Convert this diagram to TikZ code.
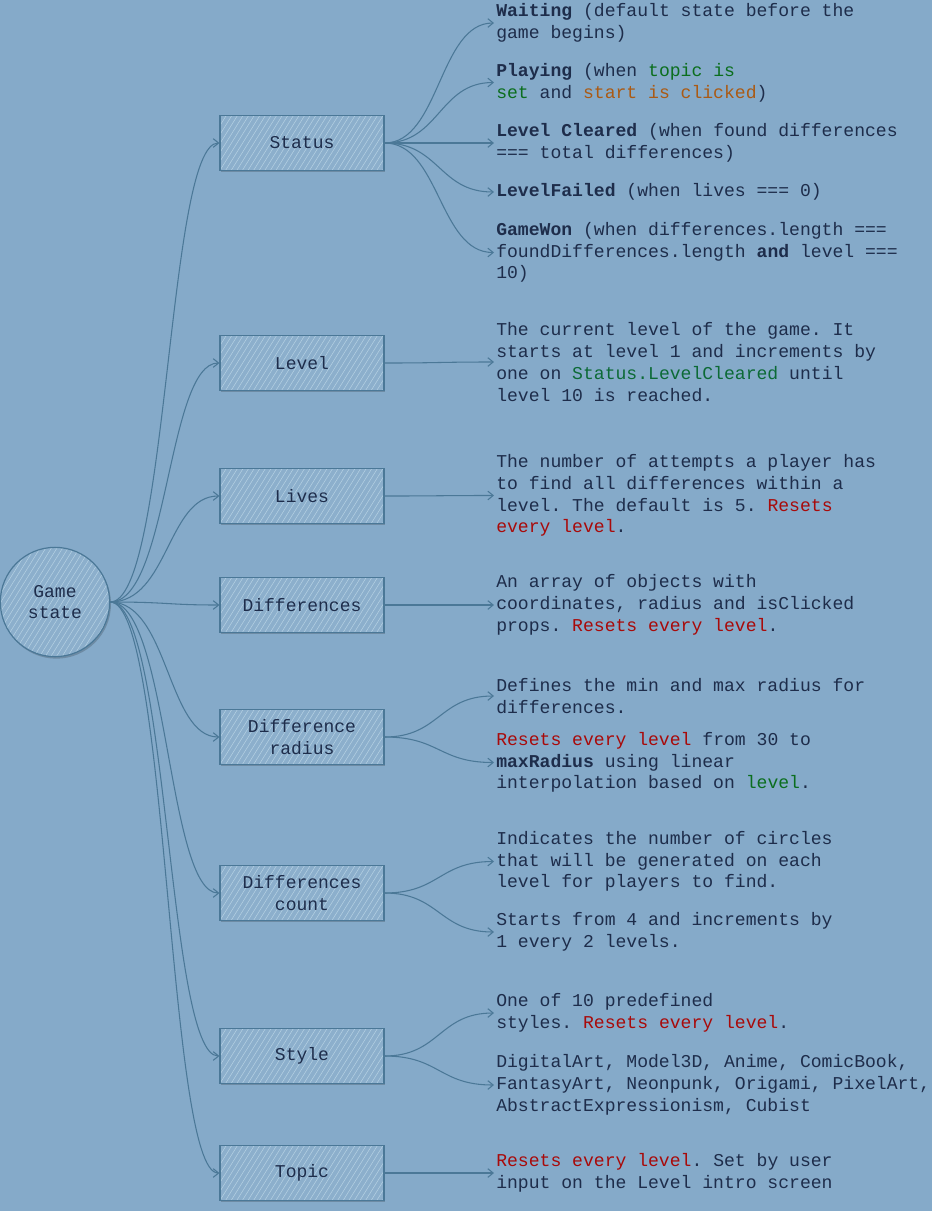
\documentclass[tikz,border=0pt]{standalone}
\usepackage{fontspec}
\setmainfont{Liberation Mono}
\setmonofont{Liberation Mono}
\usepackage{tikz}
\usetikzlibrary{arrows.meta, calc, shadows, positioning}

\definecolor{bgblue}{HTML}{85AAC9}
\definecolor{edgeblue}{HTML}{4B7897}
\definecolor{hatchblue}{HTML}{B4D0E3}
\definecolor{inkblue}{HTML}{1E2D4B}
\definecolor{resetred}{HTML}{A80A0A}
\definecolor{codegreen}{HTML}{0B6E1E}
\definecolor{codeteal}{HTML}{0C6A36}
\definecolor{codeorange}{HTML}{AA5A14}

\newcommand{\rst}[1]{\textcolor{resetred}{#1}}
\newcommand{\grn}[1]{\textcolor{codegreen}{#1}}

\tikzset{
  sketchfill/.style={fill=bgblue!94!white,
    path picture={
      \foreach \i in {-30,...,30}
        \draw[hatchblue, line width=0.4pt]
          ($(path picture bounding box.south west)+(\i*4.2pt,0)$) -- ++(58:110pt);
    }},
  statebox/.style={draw=edgeblue, line width=0.9pt, sketchfill, minimum width=123pt, minimum height=41pt,
    align=center, text=inkblue, font=\ttfamily\fontsize{13.5}{16.3}\selectfont,
    drop shadow={shadow xshift=1pt, shadow yshift=-1.5pt, opacity=0.18, fill=black}},
  statecircle/.style={statebox, circle, minimum width=82pt, minimum height=82pt, inner sep=0pt},
  desc/.style={anchor=west, align=left, inner xsep=1.5pt, inner ysep=0pt, text=inkblue,
    font=\ttfamily\fontsize{13.56}{16.3}\selectfont},
  link/.style={draw=edgeblue, line width=0.8pt, -{Straight Barb[length=4pt,width=6.5pt]}},
}

\begin{document}
\frenchspacing
\begin{tikzpicture}[x=0.75pt, y=-0.75pt]
  \fill[bgblue] (0,0) rectangle (932,1211);
  \useasboundingbox (0,0) rectangle (932,1211);

  % centre
  \node[statecircle] (game) at (55,602) {Game\\state};

  % fields
  \node[statebox] (status)  at (302,143)  {Status};
  \node[statebox] (level)   at (302,363)  {Level};
  \node[statebox] (lives)   at (302,496)  {Lives};
  \node[statebox] (diffs)   at (302,605)  {Differences};
  \node[statebox] (radius)  at (302,737)  {Difference\\radius};
  \node[statebox] (count)   at (302,893)  {Differences\\count};
  \node[statebox] (style)   at (302,1056) {Style};
  \node[statebox] (topic)   at (302,1173) {Topic};

  % descriptions
  \node[desc] (waiting) at (494,23)    {\textbf{Waiting} (default state before the\\game begins)};
  \node[desc] (playing) at (494,82.5)  {\textbf{Playing} (when \grn{topic is}\\\grn{set} and \textcolor{codeorange}{start is clicked})};
  \node[desc] (cleared) at (494,143)   {\textbf{Level Cleared} (when found differences\\=== total differences)};
  \node[desc] (failed)  at (494,192)   {\textbf{LevelFailed} (when lives === 0)};
  \node[desc] (won)     at (494,252.5) {\textbf{GameWon} (when differences.length ===\\foundDifferences.length \textbf{and} level ===\\10)};

  \node[desc] (leveltxt) at (494,362) {The current level of the game. It\\starts at level 1 and increments by\\one on \textcolor{codeteal}{Status.LevelCleared} until\\level 10 is reached.};
  \node[desc] (livestxt) at (494,495.5) {The number of attempts a player has\\to find all differences within a\\level. The default is 5. \rst{Resets}\\\rst{every level}.};
  \node[desc] (diffstxt) at (494,605)   {An array of objects with\\coordinates, radius and isClicked\\props. \rst{Resets every level}.};

  \node[desc] (radiusa) at (494,696)   {Defines the min and max radius for\\differences.};
  \node[desc] (radiusb) at (494,762.5) {\rst{Resets every level} from 30 to\\\textbf{maxRadius} using linear\\interpolation based on \grn{level}.};

  \node[desc] (counta) at (494,861.5) {Indicates the number of circles\\that will be generated on each\\level for players to find.};
  \node[desc] (countb) at (494,932)   {Starts from 4 and increments by\\1 every 2 levels.};

  \node[desc] (stylea) at (494,1013) {One of 10 predefined\\styles. \rst{Resets every level}.};
  \node[desc] (styleb) at (494,1085) {DigitalArt, Model3D, Anime, ComicBook,\\FantasyArt, Neonpunk, Origami, PixelArt,\\AbstractExpressionism, Cubist};

  \node[desc] (topictxt) at (494,1173) {\rst{Resets every level}. Set by user\\input on the Level intro screen};

  % circle to fields
  \foreach \f in {status, level, lives, diffs, radius, count, style, topic}
    \draw[link] (game.east) .. controls +(58,0) and +(-52,0) .. (\f.west);

  % fields to descriptions
  \foreach \a/\b in {status/waiting, status/playing, status/cleared, status/failed, status/won,
                     level/leveltxt, lives/livestxt, diffs/diffstxt,
                     radius/radiusa, radius/radiusb, count/counta, count/countb,
                     style/stylea, style/styleb, topic/topictxt}
    \draw[link] (\a.east) .. controls +(55,0) and +(-55,0) .. (\b.west);
\end{tikzpicture}
\end{document}
